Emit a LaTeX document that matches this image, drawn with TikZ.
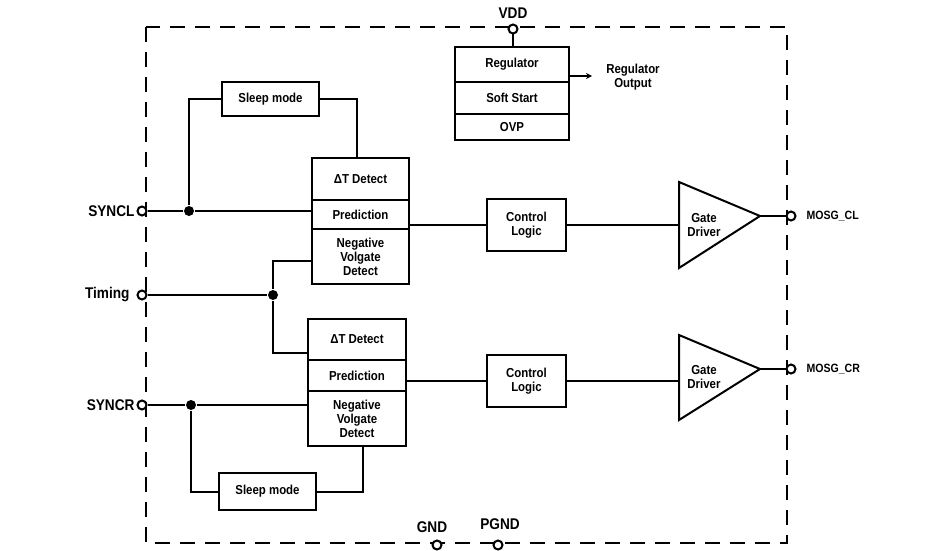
\documentclass[tikz,border=0pt]{standalone}
\usepackage{fontspec}
\setmainfont{Liberation Sans}[FakeStretch=0.88]
\usetikzlibrary{arrows.meta}
\begin{document}
\begin{tikzpicture}[x=1pt,y=-1pt, line width=2pt,
  blk/.style={draw, rectangle, align=center, inner sep=0pt, font=\fontsize{13}{14}\selectfont\bfseries},
  pinc/.style={circle, draw, fill=white, minimum size=9pt, inner sep=0pt, line width=2pt},
  dotc/.style={circle, fill=black, minimum size=10pt, inner sep=0pt},
  lbl/.style={font=\fontsize{15.5}{17}\selectfont\bfseries, inner sep=0pt},
  slbl/.style={font=\fontsize{12}{13}\selectfont\bfseries, inner sep=0pt, align=center},
  border/.style={line width=2pt, dash pattern=on 15pt off 10pt}]
\useasboundingbox (0,0) rectangle (946,551);
\fill[white] (0,0) rectangle (946,551);

% chip outline
\draw[border] (146,27) rectangle (787,543);

% regulator block
\node[blk, minimum width=114pt, minimum height=35pt] (reg) at (512,64.5) {Regulator};
\node[blk, minimum width=114pt, minimum height=32pt] (soft) at (512,98) {Soft Start};
\node[blk, minimum width=114pt, minimum height=26pt] (ovp) at (512,127) {OVP};
\node[pinc] (vdd) at (513,29) {};
\node[lbl, above=4pt] (vddl) at (vdd.north) {VDD};
\draw (vdd) -- (vdd |- reg.north);
\coordinate (ro) at (592,76);
\draw[-{Stealth[length=6pt,width=6pt]}] (reg.east |- ro) -- (ro);
\node[blk, draw=none] (rol) at (633,77) {Regulator\\Output};

% upper channel
\node[blk, minimum width=97pt, minimum height=34pt] (sl1) at (270.5,99) {Sleep mode};
\node[blk, minimum width=97pt, minimum height=42pt] (dt1) at (360.5,179) {ΔT Detect};
\node[blk, minimum width=97pt, minimum height=29pt] (pr1) at (360.5,214.5) {Prediction};
\node[blk, minimum width=97pt, minimum height=55pt] (nv1) at (360.5,256.5) {Negative\\Volgate\\Detect};
\node[blk, minimum width=79pt, minimum height=52pt] (cl1) at (526.5,225) {Control\\Logic};
\coordinate (g1a) at (679,182);
\coordinate (g1b) at (679,268);
\coordinate (g1t) at (760,216);
\draw (g1a) -- (g1t) -- (g1b) -- cycle;
\node[blk, draw=none] (gd1) at (704,225) {Gate\\Driver};

% lower channel
\node[blk, minimum width=98pt, minimum height=41pt] (dt2) at (357,339.5) {ΔT Detect};
\node[blk, minimum width=98pt, minimum height=31pt] (pr2) at (357,375.5) {Prediction};
\node[blk, minimum width=98pt, minimum height=55pt] (nv2) at (357,418.5) {Negative\\Volgate\\Detect};
\node[blk, minimum width=97pt, minimum height=37pt] (sl2) at (267.5,491.5) {Sleep mode};
\node[blk, minimum width=79pt, minimum height=52pt] (cl2) at (526.5,381) {Control\\Logic};
\coordinate (g2a) at (679,335);
\coordinate (g2b) at (679,420);
\coordinate (g2t) at (760,369);
\draw (g2a) -- (g2t) -- (g2b) -- cycle;
\node[blk, draw=none] (gd2) at (704,377) {Gate\\Driver};

% junction dots
\node[dotc] (j1) at (189,211) {};
\node[dotc] (j2) at (273,295) {};
\node[dotc] (j3) at (191,405) {};

% pins
\node[pinc] (syncl) at (142,211) {};
\node[pinc] (timing) at (142,295) {};
\node[pinc] (syncr) at (142,405) {};
\node[pinc] (mcl) at (791,216) {};
\node[pinc] (mcr) at (791,369) {};
\node[pinc] (gnd) at (437,545) {};
\node[pinc] (pgnd) at (498,545) {};

\node[lbl, anchor=east] (synclL) at ([xshift=-1pt]syncl.west) {SYNCL};
\node[lbl, anchor=east] (timingL) at ([xshift=-6pt]timing.west) {Timing};
\node[lbl, anchor=east] (syncrL) at ([xshift=-1pt]syncr.west) {SYNCR};
\node[slbl, anchor=west] (mclL) at ([xshift=9pt]mcl.east) {MOSG\_CL};
\node[slbl, anchor=west] (mcrL) at ([xshift=9pt]mcr.east) {MOSG\_CR};
\node[lbl] (gndL) at (432,527) {GND};
\node[lbl] (pgndL) at (500,524) {PGND};

% connections upper
\draw (syncl) -- (j1) -- (pr1.west |- j1);
\draw (j1) |- (sl1.west);
\draw (sl1.east) -| ([xshift=-4pt]dt1.north);
\draw (pr1.east |- cl1.west) -- (cl1.west);
\draw (cl1.east) -- (g1a |- cl1.east);
\draw (g1t) -- (mcl);

% timing
\draw (timing) -- (j2);
\draw (j2) |- ([yshift=-4.5pt]nv1.west);
\draw (j2) |- ([yshift=-13.5pt]dt2.west);

% connections lower
\draw (syncr) -- (j3) -- (nv2.west |- j3);
\draw (j3) |- (sl2.west);
\draw (sl2.east) -| ([xshift=6pt]nv2.south);
\draw (pr2.east |- cl2.west) -- (cl2.west);
\draw (cl2.east) -- (g2a |- cl2.east);
\draw (g2t) -- (mcr);
\end{tikzpicture}
\end{document}
